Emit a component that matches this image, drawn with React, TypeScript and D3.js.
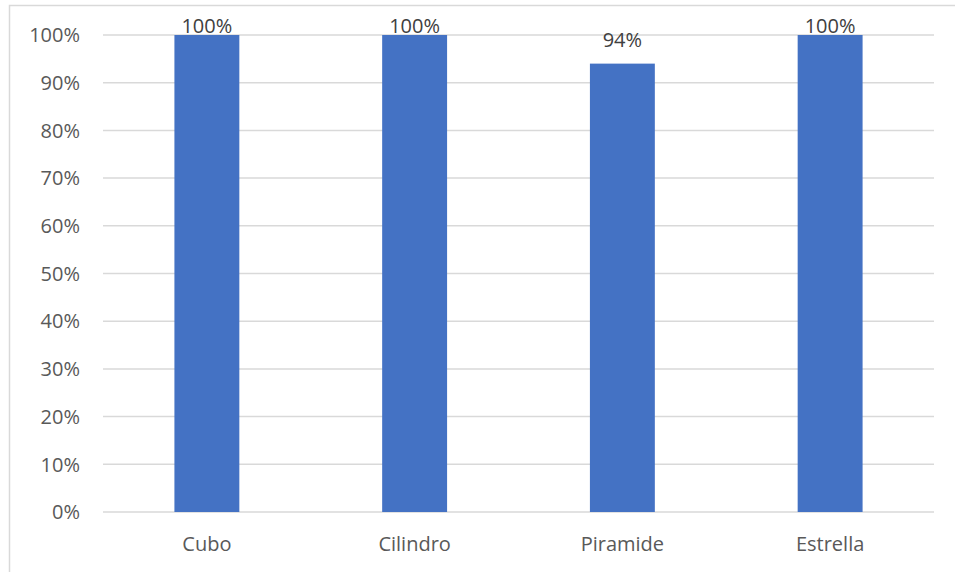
import React from 'react';
import * as d3 from 'd3';

const categories = ['Cubo', 'Cilindro', 'Piramide', 'Estrella'];
const values = [100, 100, 94, 100];
const yTicks = [0, 10, 20, 30, 40, 50, 60, 70, 80, 90, 100];

const W = 955;
const H = 572;
const plot = { left: 103, right: 934, top: 35, bottom: 512 };
const font = '"Open Sans", sans-serif';
const textColor = '#595959';
const fs = 20;

const App: React.FC = () => {
  const x = d3.scaleBand<string>()
    .domain(categories)
    .range([plot.left, plot.right])
    .paddingInner(0.6875)
    .paddingOuter(0.34375);

  const y = d3.scaleLinear()
    .domain([0, 100])
    .range([plot.bottom, plot.top]);

  return (
    <svg width={W} height={H} style={{ position: 'absolute', left: 0, top: 0, background: '#fff' }}>
      <rect x={9.5} y={5.5} width={W + 10} height={H + 10} fill="#fff" stroke="#d9d9d9" strokeWidth={1.5} />
      {yTicks.map(t => (
        <g key={t}>
          <line x1={plot.left} x2={plot.right} y1={y(t)} y2={y(t)} stroke="#d9d9d9" strokeWidth={1.5} />
          <text x={80} y={y(t)} dy="0.36em" textAnchor="end" fontFamily={font} fontSize={fs} fill={textColor}>
            {t}%
          </text>
        </g>
      ))}
      {categories.map((c, i) => {
        const bx = x(c)!;
        const by = y(values[i]);
        const labelY = Math.max(by - 17, 33);
        return (
          <g key={c}>
            <rect x={bx} y={by} width={x.bandwidth()} height={plot.bottom - by} fill="#4472c4" />
            <text x={bx + x.bandwidth() / 2} y={labelY} textAnchor="middle" fontFamily={font} fontSize={fs} fill="#404040">
              {values[i]}%
            </text>
            <text x={bx + x.bandwidth() / 2} y={551} textAnchor="middle" fontFamily={font} fontSize={fs} fill={textColor}>
              {c}
            </text>
          </g>
        );
      })}
    </svg>
  );
};

export default App;
